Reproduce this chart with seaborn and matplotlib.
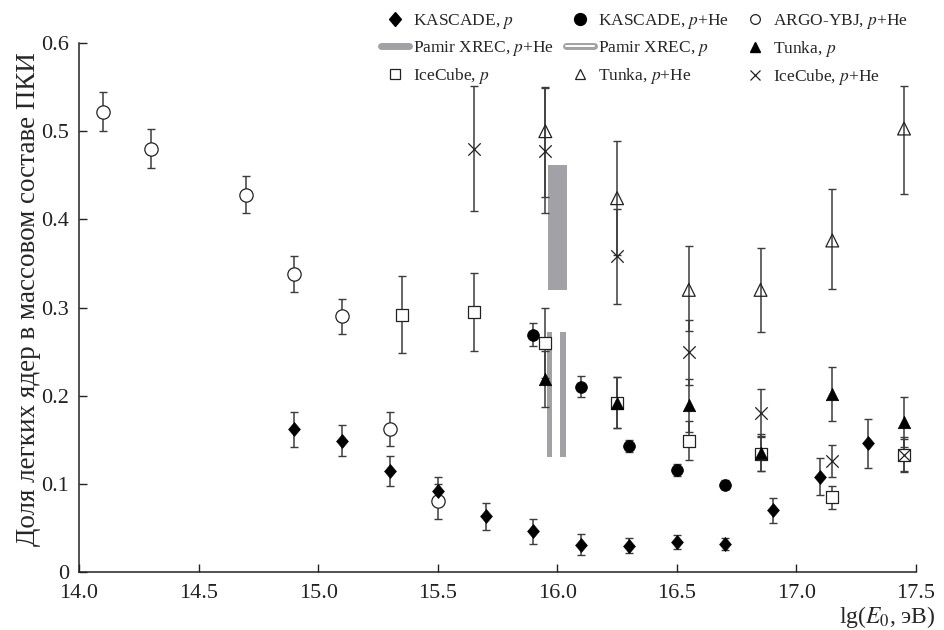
import numpy as np
import pandas as pd
import seaborn as sns
import matplotlib.pyplot as plt
from matplotlib.lines import Line2D
from matplotlib.legend_handler import HandlerTuple

# light-nuclei fraction vs lg(E0)
kascade_p_x = [14.9, 15.1, 15.3, 15.5, 15.7, 15.9, 16.1, 16.3, 16.5, 16.7, 16.9, 17.1, 17.3]
kascade_p_y = [0.162, 0.149, 0.115, 0.092, 0.063, 0.046, 0.031, 0.030, 0.034, 0.032, 0.070, 0.108, 0.146]
kascade_p_err = [0.020, 0.018, 0.017, 0.016, 0.015, 0.014, 0.012, 0.008, 0.008, 0.007, 0.014, 0.021, 0.028]

kascade_phe_x = [15.9, 16.1, 16.3, 16.5, 16.7]
kascade_phe_y = [0.269, 0.210, 0.143, 0.116, 0.099]
kascade_phe_err = [0.013, 0.012, 0.007, 0.007, 0.005]

argo_x = [14.1, 14.3, 14.7, 14.9, 15.1, 15.3, 15.5]
argo_y = [0.522, 0.480, 0.428, 0.338, 0.290, 0.162, 0.080]
argo_err = [0.022, 0.022, 0.021, 0.020, 0.020, 0.019, 0.020]

icecube_p_x = [15.35, 15.65, 15.95, 16.25, 16.55, 16.85, 17.15, 17.45]
icecube_p_y = [0.292, 0.295, 0.260, 0.192, 0.149, 0.134, 0.085, 0.133]
icecube_p_err = [0.044, 0.044, 0.040, 0.029, 0.022, 0.020, 0.013, 0.018]

icecube_phe_x = [15.65, 15.95, 16.25, 16.55, 16.85, 17.15, 17.45]
icecube_phe_y = [0.480, 0.478, 0.358, 0.249, 0.180, 0.126, 0.133]
icecube_phe_err = [0.071, 0.071, 0.054, 0.037, 0.027, 0.018, 0.020]

tunka_p_x = [15.95, 16.25, 16.55, 16.85, 17.15, 17.45]
tunka_p_y = [0.219, 0.192, 0.189, 0.135, 0.202, 0.170]
tunka_p_err = [0.032, 0.029, 0.030, 0.021, 0.031, 0.028]

tunka_phe_x = [15.95, 16.25, 16.55, 16.85, 17.15, 17.45]
tunka_phe_y = [0.500, 0.424, 0.320, 0.320, 0.376, 0.503]
tunka_phe_lo = [0.075, 0.065, 0.047, 0.048, 0.055, 0.074]
tunka_phe_hi = [0.050, 0.065, 0.050, 0.048, 0.058, 0.048]

# Pamir XREC bands: energy edges and fraction range
pamir_phe_x = [15.96, 16.04]
pamir_phe_y = [0.320, 0.462]
pamir_p_x = [[15.955, 15.98], [16.01, 16.035]]
pamir_p_y = [0.130, 0.272]

sns.set_style('ticks')
plt.rcParams['font.family'] = ['Liberation Serif', 'DejaVu Serif']
plt.rcParams['mathtext.fontset'] = 'stix'

fig = plt.figure(figsize=(9.45, 6.3), dpi=100)
ax = fig.add_axes([0.0836, 0.0921, 0.8857, 0.8396])

band_c = '#a2a2a6'
err_c = '#3c3c3c'
ax.fill_between(pamir_phe_x, pamir_phe_y[0], pamir_phe_y[1], color=band_c, lw=0, zorder=1)
for xs in pamir_p_x:
    ax.fill_between(xs, pamir_p_y[0], pamir_p_y[1], color=band_c, lw=0, zorder=1)

ekw = dict(fmt='none', ecolor=err_c, elinewidth=1.1, capsize=3, capthick=1.0, zorder=2)
ax.errorbar(argo_x, argo_y, yerr=argo_err, **ekw)
ax.errorbar(kascade_p_x, kascade_p_y, yerr=kascade_p_err, **ekw)
ax.errorbar(kascade_phe_x, kascade_phe_y, yerr=kascade_phe_err, **ekw)
ax.errorbar(icecube_p_x, icecube_p_y, yerr=icecube_p_err, **ekw)
ax.errorbar(icecube_phe_x, icecube_phe_y, yerr=icecube_phe_err, **ekw)
ax.errorbar(tunka_p_x, tunka_p_y, yerr=tunka_p_err, **ekw)
ax.errorbar(tunka_phe_x, tunka_phe_y, yerr=[tunka_phe_lo, tunka_phe_hi], **ekw)

diamond = [(0, 1), (0.85, 0), (0, -1), (-0.85, 0), (0, 1)]

sns.scatterplot(x=argo_x, y=argo_y, marker='o', s=92, facecolor='white',
                edgecolor='#222222', linewidth=0.9, ax=ax, zorder=3)
sns.scatterplot(x=icecube_p_x, y=icecube_p_y, marker='s', s=74, facecolor='white',
                edgecolor='#222222', linewidth=0.9, ax=ax, zorder=3)
sns.scatterplot(x=kascade_p_x, y=kascade_p_y, marker=diamond, s=100, color='black',
                edgecolor='black', linewidth=0.5, ax=ax, zorder=4)
sns.scatterplot(x=kascade_phe_x, y=kascade_phe_y, marker='o', s=72, color='black',
                edgecolor='black', linewidth=0.5, ax=ax, zorder=4)
sns.scatterplot(x=tunka_p_x, y=tunka_p_y, marker='^', s=80, color='black',
                edgecolor='black', linewidth=0.5, ax=ax, zorder=4)
sns.scatterplot(x=tunka_phe_x, y=tunka_phe_y, marker='^', s=85, facecolor='none',
                edgecolor='#222222', linewidth=0.9, ax=ax, zorder=4)
sns.scatterplot(x=icecube_phe_x, y=icecube_phe_y, marker='x', s=80, color='#222222',
                linewidth=0.9, ax=ax, zorder=4)

ax.set_xlim(14.0, 17.5)
ax.set_ylim(0, 0.6)
ax.set_xticks(np.arange(14.0, 17.51, 0.5))
ax.set_xticklabels([f'{v:.1f}' for v in np.arange(14.0, 17.51, 0.5)])
ax.set_yticks(np.arange(0, 0.61, 0.1))
ax.set_yticklabels(['0', '0.1', '0.2', '0.3', '0.4', '0.5', '0.6'])
ax.tick_params(direction='in', length=6, width=1, labelsize=16, colors='#222222')
ax.tick_params(axis='x', pad=8.5)
ax.tick_params(axis='y', pad=7)
sns.despine(ax=ax)
for s in ['left', 'bottom']:
    ax.spines[s].set_linewidth(1.1)
    ax.spines[s].set_color('#222222')

ax.set_ylabel('Доля легких ядер в массовом составе ПКИ', fontsize=19.5)
ax.yaxis.set_label_coords(-0.046, 0.516)
fig.text(0.99, 0.0, r'lg($E_0$, эВ)', fontsize=17, ha='right', va='bottom')

# legend: three columns placed separately
h_kp = Line2D([], [], ls='none', marker=diamond, ms=10, color='black')
h_kphe = Line2D([], [], ls='none', marker='o', ms=8.5, color='black')
h_argo = Line2D([], [], ls='none', marker='o', ms=7, mfc='white', mec='#222222', mew=0.9)
h_pphe = Line2D([], [], color=band_c, lw=5)
h_pp = (Line2D([], [], color=band_c, lw=5), Line2D([], [], color='white', lw=1.4))
h_tp = Line2D([], [], ls='none', marker='^', ms=7, color='black')
h_icp = Line2D([], [], ls='none', marker='s', ms=7, mfc='white', mec='#222222', mew=0.9)
h_tphe = Line2D([], [], ls='none', marker='^', ms=7, mfc='none', mec='#222222', mew=0.9)
h_icphe = Line2D([], [], ls='none', marker='x', ms=7, color='#222222', mew=0.9)

columns = [
    ([h_kp, h_pphe, h_icp], ['KASCADE, $p$', 'Pamir XREC, $p$+He', 'IceCube, $p$'], 0.403),
    ([h_kphe, h_pp, h_tphe], ['KASCADE, $p$+He', 'Pamir XREC, $p$', 'Tunka, $p$+He'], 0.599),
    ([h_argo, h_tp, h_icphe], ['ARGO-YBJ, $p$+He', 'Tunka, $p$', 'IceCube, $p$+He'], 0.784),
]
for hs, ls_, x0 in columns:
    fig.legend(hs, ls_, loc='upper left', bbox_to_anchor=(x0, 0.981),
               frameon=False, fontsize=12.5, handlelength=1.6, handletextpad=0.25,
               labelspacing=0.45, borderpad=0, borderaxespad=0,
               handler_map={tuple: HandlerTuple(ndivide=1, pad=0)})

fig.savefig('out.png', dpi=100)
